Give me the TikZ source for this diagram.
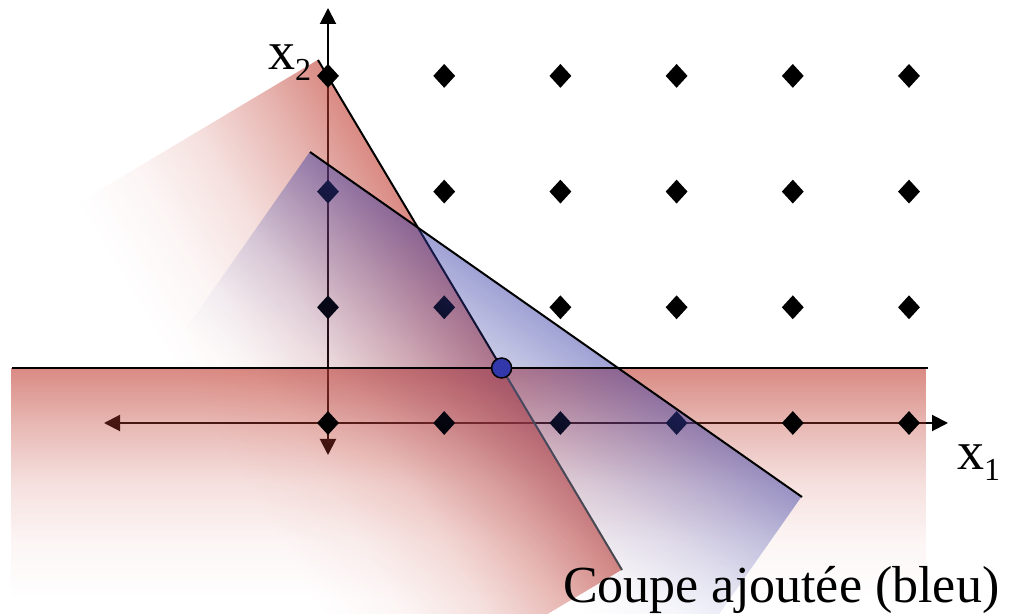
\documentclass[tikz,border=0pt]{standalone}
\usepackage{fontspec}
\setmainfont{Liberation Serif}
\usetikzlibrary{shapes.geometric,arrows.meta,fadings}
\pgfdeclareverticalshading{redfadeshade}{100bp}{color(0bp)=(black); color(25bp)=(black); color(37.5bp)=(white!5!black); color(50bp)=(white!16!black); color(62.5bp)=(white!36!black); color(75bp)=(white!60!black); color(100bp)=(white!60!black)}
\pgfdeclarefading{redfade}{\pgfuseshading{redfadeshade}}
\pgfdeclareverticalshading{bluefadeshade}{100bp}{color(0bp)=(black); color(25bp)=(black); color(37.5bp)=(white!5!black); color(50bp)=(white!15!black); color(62.5bp)=(white!30!black); color(75bp)=(white!48!black); color(100bp)=(white!48!black)}
\pgfdeclarefading{bluefade}{\pgfuseshading{bluefadeshade}}
\definecolor{bandred}{RGB}{192,60,48}
\definecolor{bandblue}{RGB}{55,60,165}
\definecolor{dotblue}{RGB}{50,55,170}
\begin{document}
\begin{tikzpicture}[x=1pt,y=1pt,
  latpt/.style={diamond, fill=black, inner sep=0pt, minimum width=22pt, minimum height=24pt},
  axisline/.style={line width=2pt, {Triangle[length=16pt,width=16pt]}-{Triangle[length=16pt,width=16pt]}},
  cutline/.style={line width=2pt, black},
  lbl/.style={inner sep=0pt, anchor=base west}]
\useasboundingbox (0,0) rectangle (1009,613);
% axes
\coordinate (O) at (328,190);
\coordinate (xl) at (104,190);
\coordinate (xr) at (948,190);
\coordinate (yb) at (328,158);
\coordinate (yt) at (328,605);
\draw[axisline] (xl) -- (xr);
\draw[axisline] (yb) -- (yt);
% constraint end points
\coordinate (s1) at (318,553);
\coordinate (s2) at (622,43);
\coordinate (b1) at (310,461);
\coordinate (b2) at (802,116);
\coordinate (h1) at (12,245);
\coordinate (h2) at (928,245);
% red band along the steep constraint
\begin{scope}[transform canvas={shift={(318,553)}, rotate=-59.2}]
  \fill[bandred, path fading=redfade] (0,-280) rectangle (594,0);
\end{scope}
% red band below the horizontal constraint
\fill[bandred, path fading=redfade] (12,15) rectangle (928,245);
% lattice points
\foreach \i in {0,...,5}
  \foreach \j in {0,...,3}
    \node[latpt] (p\i\j) at ({328+116.2*\i},{190+115.7*\j}) {};
\node[circle, inner sep=0pt, minimum size=20pt] (sol) at (intersection of s1--s2 and h1--h2) {};
\draw[cutline] (s1) -- (sol.center);
\draw[cutline, black!70] (sol.center) -- (s2);
% blue band along the added cut
\begin{scope}[transform canvas={shift={(310,461)}, rotate=-35.04}]
  \fill[bandblue, path fading=bluefade] (0,-220) rectangle (601,0);
\end{scope}
\draw[cutline] (b1) -- (b2);
\draw[cutline] (h1) -- (h2);
\node[circle, fill=dotblue, draw=black, line width=1.5pt, minimum size=20pt, inner sep=0pt] at (sol) {};
% labels
\node[lbl] (xtwo) at (268,543.5) {\fontsize{54}{60}\selectfont x\raisebox{-11pt}{\fontsize{32}{36}\selectfont 2}};
\node[lbl] (xone) at (957,143) {\fontsize{54}{60}\selectfont x\raisebox{-11pt}{\fontsize{32}{36}\selectfont 1}};
\node[lbl] (cap) at (563,11) {\fontsize{52}{60}\selectfont Coupe ajoutée (bleu)};
\end{tikzpicture}
\end{document}
